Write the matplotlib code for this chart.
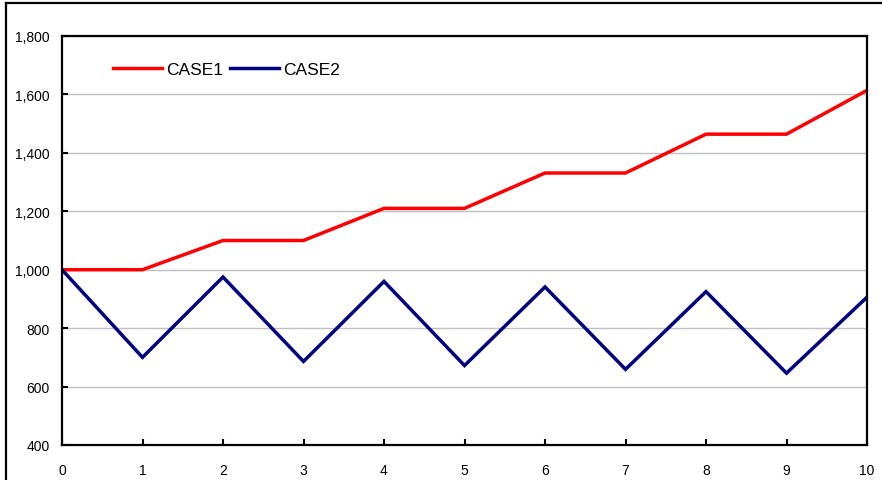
import matplotlib.pyplot as plt
from matplotlib.lines import Line2D
from matplotlib.ticker import FuncFormatter

plt.rcParams['font.family'] = ['Liberation Sans', 'DejaVu Sans']

# values
periods = [0, 1, 2, 3, 4, 5, 6, 7, 8, 9, 10]
case1 = [1000, 1000, 1100, 1100, 1210, 1210, 1331, 1331, 1464, 1464, 1614]
case2 = [1000, 700, 975, 686, 960, 672, 941, 659, 925, 646, 906]

fig = plt.figure(figsize=(8.82, 4.81), dpi=100)
ax = fig.add_axes([62 / 882, 35 / 481, 805 / 882, 409 / 481])

ax.plot(periods, case1, color='#ff0000', lw=2.5, label='CASE1', solid_joinstyle='miter')
ax.plot(periods, case2, color='#000080', lw=2.5, label='CASE2', solid_joinstyle='miter')

ax.set_xlim(0, 10)
ax.set_ylim(400, 1800)
ax.set_xticks(periods)
ax.set_yticks(range(400, 1801, 200))
ax.yaxis.set_major_formatter(FuncFormatter(lambda v, p: f'{int(v):,}'))
ax.grid(axis='y', color='#c0c0c0', lw=1)
ax.set_axisbelow(True)
for s in ax.spines.values():
    s.set_linewidth(1.6)
ax.tick_params(direction='in', length=4, width=1.5, labelsize=10)
ax.tick_params(axis='x', pad=13)
ax.tick_params(axis='y', pad=9)

leg = ax.legend(loc='center left', bbox_to_anchor=(0.055, 0.918), ncol=2, frameon=False,
                fontsize=12.5, handlelength=2.8, handletextpad=0.25, columnspacing=0.4,
                borderaxespad=0)

# outer chart border
fig.add_artist(Line2D([6 / 882, 6 / 882], [-0.1, 1 - 4 / 481], color='black', lw=1.6,
                      transform=fig.transFigure))
fig.add_artist(Line2D([6 / 882, 1.1], [1 - 4 / 481, 1 - 4 / 481], color='black', lw=1.6,
                      transform=fig.transFigure))

fig.savefig('out.png', dpi=100)
